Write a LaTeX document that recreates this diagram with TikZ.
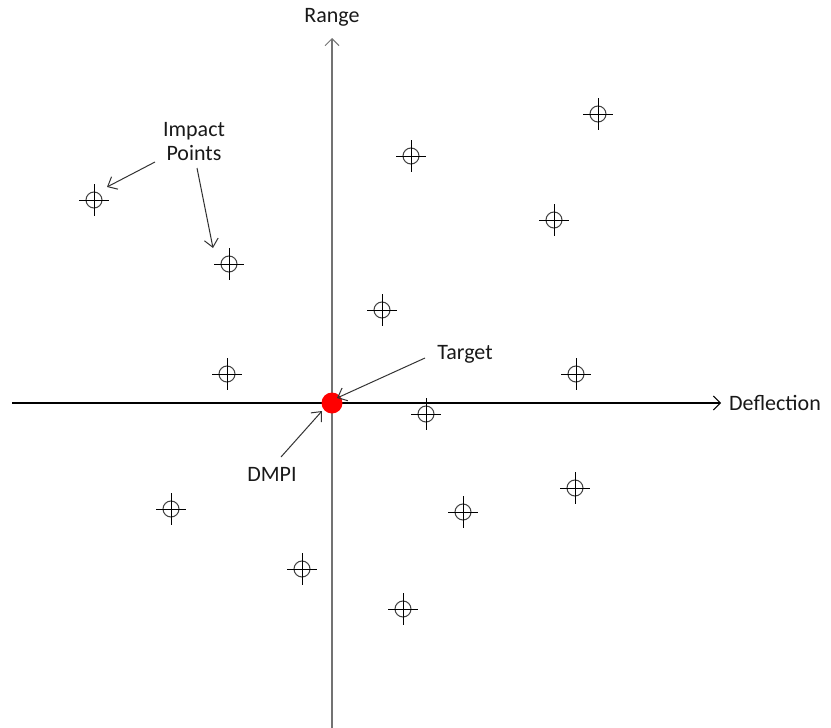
\documentclass[tikz,border=0pt]{standalone}
\usepackage{fontspec}
\setmainfont{Carlito}
\usetikzlibrary{arrows.meta}
\begin{document}
\begin{tikzpicture}[x=1pt,y=-1pt,
  lbl/.style={font=\fontsize{22}{25}\selectfont, text=black!90, inner sep=0pt},
  axis/.style={line width=1.3pt, -{Straight Barb[length=7pt,width=14pt,line width=1pt]}},
  pointer/.style={line width=1pt, draw=black!80, -{Straight Barb[length=8pt,width=14pt,line width=1pt]}},
  ring/.style={circle, draw=black!75, line width=1pt, minimum size=16pt, inner sep=0pt},
  tick/.style={line width=1pt}]
\useasboundingbox (0,0) rectangle (831,728);
% axes
\coordinate (xl) at (12,403);
\coordinate (xr) at (721,403);
\coordinate (yb) at (332,728);
\coordinate (yt) at (332,38);
\draw[axis, draw=black] (xl) -- (xr);
\draw[axis, draw=black!55] (yb) -- (yt);
\node[lbl, anchor=west] (defl) at (729,403) {Deflection};
\node[lbl] (range) at (332,17) {Range};
% impact markers
\foreach \n/\px/\py in {p1/598/114, p2/411/156, p3/554/220, p4/94/200, p5/229/264,
  p6/382/310, p7/227/374, p8/576/374, p9/426/414, p10/575/488, p11/171/509,
  p12/463/512, p13/302/569, p14/403/609}{
  \node[ring] (\n) at (\px,\py) {};
  \draw[tick] (\px-15,\py) -- (\px+15,\py);
  \draw[tick] (\px,\py-16) -- (\px,\py+16);
}
% target dot
\node[circle, fill=red, minimum size=21pt, inner sep=0pt] (tgt) at (332,403) {};
% labels
\node[lbl, align=center] (imp) at (194,142) {Impact\\[-1pt]Points};
\node[lbl] (target) at (465,354) {Target};
\node[lbl] (dmpi) at (272,474) {DMPI};
\coordinate (i1s) at (155,162);
\coordinate (i1e) at (107,187);
\coordinate (i2s) at (197,168);
\coordinate (i2e) at (213,248);
\coordinate (ts) at (425,358);
\coordinate (te) at (337,398);
\coordinate (ds) at (281,457);
\coordinate (de) at (322,411);
\draw[pointer] (i1s) -- (i1e);
\draw[pointer] (i2s) -- (i2e);
\draw[pointer] (ts) -- (te);
\draw[pointer] (ds) -- (de);
\end{tikzpicture}
\end{document}
